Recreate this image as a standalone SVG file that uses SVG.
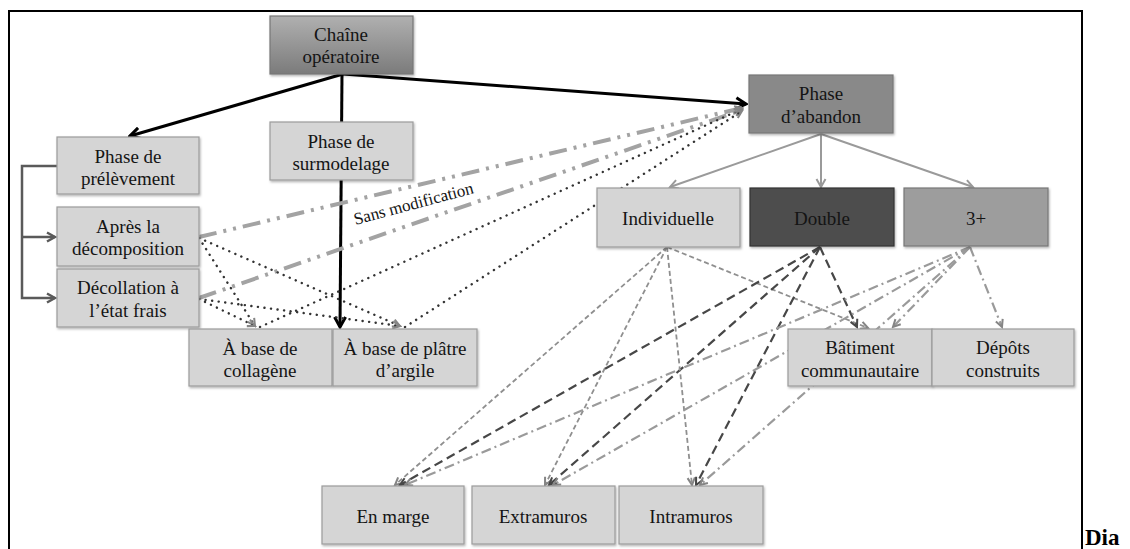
<svg xmlns="http://www.w3.org/2000/svg" width="1130" height="549" viewBox="0 0 1130 549">
<style>
text{font-family:"Liberation Serif","Times New Roman",serif;font-size:19px;fill:#141414;text-anchor:middle}
.box{fill:#d5d5d5;stroke:#9c9c9c;stroke-width:1.2;filter:url(#sh)}
.blk{fill:none;stroke:#000;stroke-width:3;marker-end:url(#aBlk)}
.elb{fill:none;stroke:#5a5a5a;stroke-width:2.5}
.gch{fill:none;stroke:#9a9a9a;stroke-width:2;marker-end:url(#aGray)}
.ddd{fill:none;stroke:#a3a3a3;stroke-width:4;stroke-dasharray:18,7,3,7,3,7;marker-end:url(#aGrayS)}
.dot{fill:none;stroke:#333;stroke-width:2.4;stroke-dasharray:0.1,6.5;stroke-linecap:round;marker-end:url(#aGrayS)}
.ind{fill:none;stroke:#8f8f8f;stroke-width:1.8;stroke-dasharray:5,3;marker-end:url(#aGrayS)}
.dbl{fill:none;stroke:#474747;stroke-width:2.2;stroke-dasharray:9,5;marker-end:url(#aDark)}
.trp{fill:none;stroke:#9a9a9a;stroke-width:2.2;stroke-dasharray:10,4,2,4;marker-end:url(#aGrayS)}
</style>
<defs>
<filter id="sh" x="-10%" y="-10%" width="130%" height="140%"><feDropShadow dx="1" dy="1.5" stdDeviation="1" flood-color="#000" flood-opacity="0.3"/></filter>
<linearGradient id="gC" x1="0" y1="0" x2="0" y2="1"><stop offset="0" stop-color="#b0b0b0"/><stop offset="1" stop-color="#7b7b7b"/></linearGradient>
<marker id="aBlk" markerUnits="userSpaceOnUse" viewBox="0 0 14 14" refX="12" refY="7" markerWidth="14" markerHeight="14" orient="auto"><path d="M2,1.5 L12,7 L2,12.5" fill="none" stroke="#000" stroke-width="3"/></marker>
<marker id="aGray" markerUnits="userSpaceOnUse" viewBox="0 0 12 12" refX="10" refY="6" markerWidth="12" markerHeight="12" orient="auto"><path d="M2,1.5 L10,6 L2,10.5" fill="none" stroke="#9a9a9a" stroke-width="2"/></marker>
<marker id="aElb" markerUnits="userSpaceOnUse" viewBox="0 0 12 12" refX="10" refY="6" markerWidth="12" markerHeight="12" orient="auto"><path d="M2,1.5 L10,6 L2,10.5" fill="none" stroke="#5a5a5a" stroke-width="2.5"/></marker>
<marker id="aGrayS" markerUnits="userSpaceOnUse" viewBox="0 0 12 12" refX="10" refY="6" markerWidth="11" markerHeight="11" orient="auto"><path d="M2,2 L10,6 L2,10" fill="none" stroke="#858585" stroke-width="2.2"/></marker>
<marker id="aDark" markerUnits="userSpaceOnUse" viewBox="0 0 12 12" refX="10" refY="6" markerWidth="11" markerHeight="11" orient="auto"><path d="M2,2 L10,6 L2,10" fill="none" stroke="#474747" stroke-width="2.2"/></marker>
</defs>
<rect width="1130" height="549" fill="#ffffff"/>
<path d="M9,560 V11 H1082 V560" fill="none" stroke="#000" stroke-width="2"/>
<g id="connectors">
<path class="blk" d="M343,74 L130,136"/>
<path class="blk" d="M342,74 L340,327"/>
<path class="blk" d="M343,74 L746,104"/>
<path class="elb" d="M57,166 H22 V298 H55" marker-end="url(#aElb)"/>
<path class="elb" d="M22,237 H55" marker-end="url(#aElb)"/>
<path class="gch" d="M821,134 L670,187"/>
<path class="gch" d="M821,134 L821,187"/>
<path class="gch" d="M821,134 L973,187"/>
<path class="ddd" d="M199,237 L742,108"/>
<path class="ddd" d="M199,298 L742,110"/>
<path class="dot" d="M199,238 L255,326"/>
<path class="dot" d="M199,238 L400,326"/>
<path class="dot" d="M199,299 L255,326"/>
<path class="dot" d="M199,299 L400,326"/>
<path class="dot" d="M260,327 L742,109"/>
<path class="dot" d="M405,327 L742,111"/>
<path class="ind" d="M667,247 L395,485"/>
<path class="ind" d="M667,247 L545,485"/>
<path class="ind" d="M667,247 L692,485"/>
<path class="ind" d="M667,247 L868,328"/>
<path class="dbl" d="M820,247 L400,485"/>
<path class="dbl" d="M820,247 L549,485"/>
<path class="dbl" d="M820,247 L696,485"/>
<path class="dbl" d="M820,247 L857,327"/>
<path class="trp" d="M970,247 L405,485"/>
<path class="trp" d="M970,247 L553,485"/>
<path class="trp" d="M970,247 L700,485"/>
<path class="trp" d="M970,247 L893,327"/>
<path class="trp" d="M970,247 L1002,327"/>
<text x="415" y="209" transform="rotate(-15 415 209)" style="font-size:17px">Sans modification</text>
</g>
<g id="chaine"><rect x="270" y="16" width="143" height="58" style="fill:url(#gC);stroke:#777;stroke-width:1.2;filter:url(#sh)"/><text x="341" y="41">Chaîne</text><text x="341" y="63">opératoire</text></g>
<g id="prelevement"><rect class="box" x="57" y="137" width="142" height="57"/><text x="128" y="163">Phase de</text><text x="128" y="185">prélèvement</text></g>
<g id="surmodelage"><rect class="box" x="270" y="122" width="143" height="58"/><text x="341" y="148">Phase de</text><text x="341" y="170">surmodelage</text></g>
<g id="apres"><rect class="box" x="57" y="207" width="142" height="59"/><text x="128" y="233">Après la</text><text x="128" y="255">décomposition</text></g>
<g id="decollation"><rect class="box" x="57" y="269" width="142" height="58"/><text x="128" y="294">Décollation à</text><text x="128" y="317">l’état frais</text></g>
<g id="collagene"><rect class="box" x="189" y="329" width="143" height="57"/><text x="260" y="355">À base de</text><text x="260" y="377">collagène</text></g>
<g id="platre"><rect class="box" x="333" y="329" width="144" height="57"/><text x="405" y="355">À base de plâtre</text><text x="405" y="377">d’argile</text></g>
<g id="abandon"><rect x="749" y="75" width="144" height="58" style="fill:#898989;stroke:#777;stroke-width:1.2;filter:url(#sh)"/><text x="821" y="100">Phase</text><text x="821" y="123">d’abandon</text></g>
<g id="individuelle"><rect class="box" x="597" y="188" width="143" height="59"/><text x="668" y="225">Individuelle</text></g>
<g id="double"><rect x="750" y="188" width="144" height="58" style="fill:#4d4d4d;stroke:#333;stroke-width:1.2;filter:url(#sh)"/><text x="822" y="225">Double</text></g>
<g id="trois"><rect x="904" y="188" width="144" height="58" style="fill:#9d9d9d;stroke:#777;stroke-width:1.2;filter:url(#sh)"/><text x="976" y="225">3+</text></g>
<g id="batiment"><rect class="box" x="788" y="329" width="144" height="57"/><text x="860" y="354">Bâtiment</text><text x="860" y="377">communautaire</text></g>
<g id="depots"><rect class="box" x="932" y="329" width="142" height="57"/><text x="1003" y="354">Dépôts</text><text x="1003" y="377">construits</text></g>
<g id="marge"><rect class="box" x="322" y="486" width="142" height="58"/><text x="393" y="523">En marge</text></g>
<g id="extramuros"><rect class="box" x="472" y="486" width="143" height="58"/><text x="543" y="523">Extramuros</text></g>
<g id="intramuros"><rect class="box" x="619" y="486" width="144" height="58"/><text x="691" y="523">Intramuros</text></g>
<text x="1085" y="545" style="font-size:23px;font-weight:bold;text-anchor:start;fill:#000">Dia</text>
</svg>
